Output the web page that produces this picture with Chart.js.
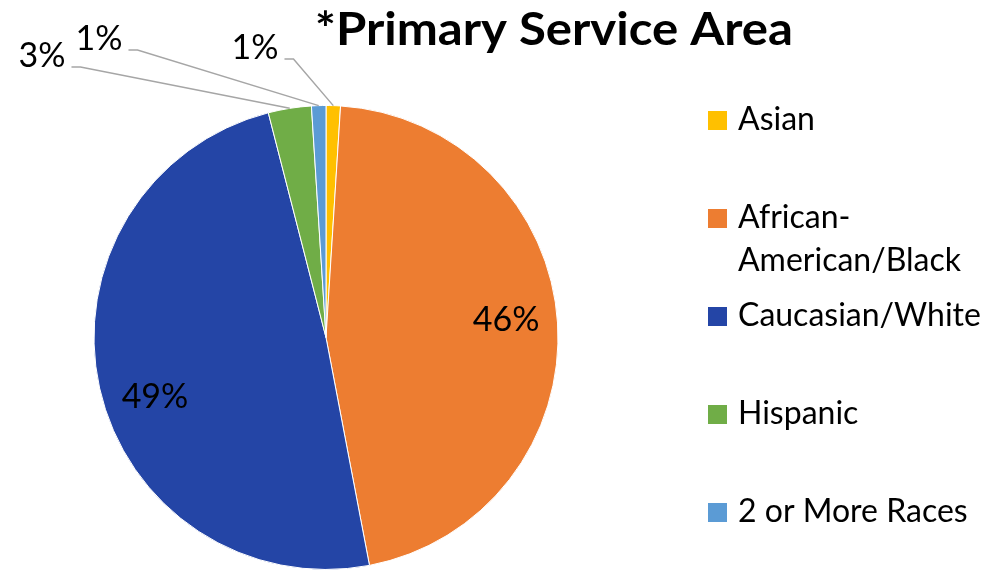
<!DOCTYPE html>
<html>
<head>
<meta charset="utf-8">
<script src="https://cdn.jsdelivr.net/npm/chart.js@4"></script>
<style>
  body { margin: 0; background: #fff; }
  .wrap { width: 1002px; height: 570px; position: relative; }
</style>
</head>
<body>
<div class="wrap"><canvas id="raceChart"></canvas></div>
<script>
const categories = ["Asian", "African-American/Black", "Caucasian/White", "Hispanic", "2 or More Races"];
const shares = [1, 46, 49, 3, 1];
const sliceColors = ["#FFC000", "#ED7D31", "#2445A6", "#70AD47", "#5B9BD5"];
const chartTitle = "*Primary Service Area";

// small slices get their label outside the pie, joined by a leader line
const outsideLabels = { 0: [255, 48], 3: [42, 56], 4: [99, 39] };
// little angle nudges (radians) for the big labels inside the pie
const labelAngleNudge = [0, -0.035, -0.113, 0, 0];

const FONT = "Lato, 'Open Sans', sans-serif";

function wrapLabel(ctx, text, maxW) {
  if (ctx.measureText(text).width <= maxW || text.indexOf("-") < 0) return [text];
  const cut = text.indexOf("-") + 1;
  return [text.slice(0, cut), text.slice(cut)];
}

const decorPlugin = {
  id: "decor",
  afterDatasetsDraw(chart) {
    const ctx = chart.ctx;
    const arcs = chart.getDatasetMeta(0).data;
    ctx.save();

    // title, stretched a little sideways to span its box
    ctx.fillStyle = "#000";
    ctx.font = "bold 45px " + FONT;
    ctx.textAlign = "center";
    ctx.textBaseline = "alphabetic";
    const tw = ctx.measureText(chartTitle).width;
    ctx.save();
    ctx.translate(554, 45);
    ctx.scale(478 / tw, 1);
    ctx.fillText(chartTitle, 0, 0);
    ctx.restore();

    // percentage labels
    ctx.font = "34px " + FONT;
    ctx.textBaseline = "middle";
    arcs.forEach((arc, i) => {
      const text = shares[i] + "%";
      const mid = (arc.startAngle + arc.endAngle) / 2;
      if (outsideLabels[i]) {
        const [lx, ly] = outsideLabels[i];
        const w = ctx.measureText(text).width;
        const sx = lx + w / 2 + 6, sy = ly + 11;
        const ex = arc.x + Math.cos(mid) * arc.outerRadius;
        const ey = arc.y + Math.sin(mid) * arc.outerRadius;
        ctx.strokeStyle = "#A6A6A6";
        ctx.lineWidth = 1.5;
        ctx.beginPath();
        ctx.moveTo(sx, sy);
        ctx.lineTo(sx + 9, sy);
        ctx.lineTo(ex, ey);
        ctx.stroke();
        ctx.fillStyle = "#000";
        ctx.fillText(text, lx, ly);
      } else {
        const a = mid + labelAngleNudge[i];
        const r = arc.outerRadius * 0.78;
        ctx.fillStyle = "#000";
        ctx.fillText(text, arc.x + Math.cos(a) * r, arc.y + Math.sin(a) * r);
      }
    });

    // legend on the right
    ctx.font = "32px " + FONT;
    ctx.textAlign = "left";
    ctx.textBaseline = "alphabetic";
    categories.forEach((name, i) => {
      const top = 111 + i * 98;
      ctx.fillStyle = sliceColors[i];
      ctx.fillRect(708, top, 19, 19);
      ctx.fillStyle = "#000";
      wrapLabel(ctx, name, 255).forEach((line, j) => {
        ctx.fillText(line, 738, top + 19 + j * 43);
      });
    });

    ctx.restore();
  }
};

new Chart(document.getElementById("raceChart"), {
  type: "pie",
  data: {
    labels: categories,
    datasets: [{
      data: shares,
      backgroundColor: sliceColors,
      borderColor: "#fff",
      borderWidth: 1
    }]
  },
  options: {
    responsive: true,
    maintainAspectRatio: false,
    animation: false,
    layout: { padding: { left: 93, right: 443, top: 105, bottom: 0 } },
    plugins: {
      legend: { display: false },
      title: { display: false },
      tooltip: { enabled: false }
    }
  },
  plugins: [decorPlugin]
});
</script>
</body>
</html>
